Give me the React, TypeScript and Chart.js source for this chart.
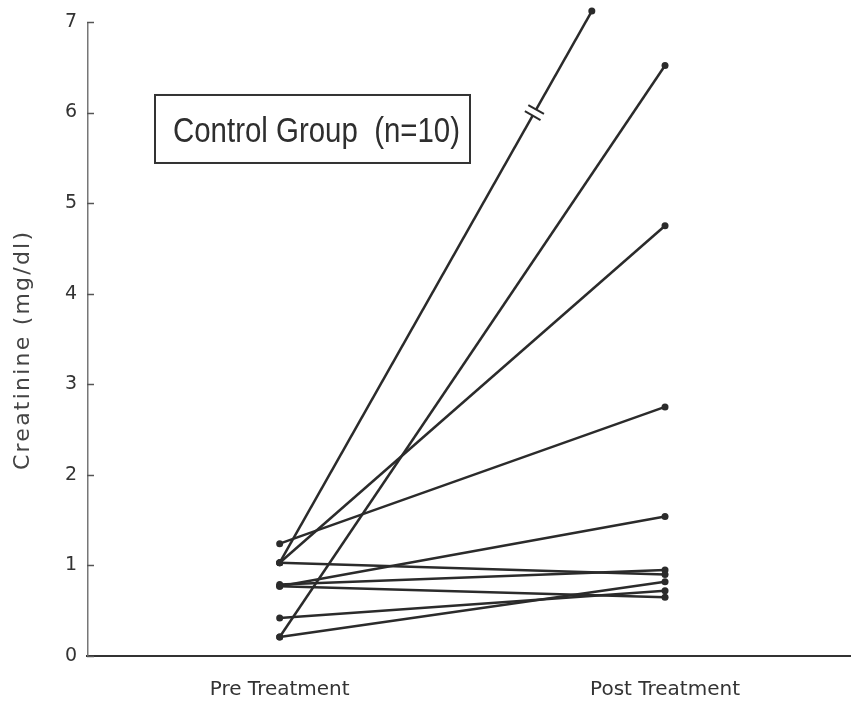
import React, { useEffect, useRef } from 'react';
import { Chart, registerables } from 'chart.js';

Chart.register(...registerables);

// Creatinine per subject, before and after treatment (mg/dl)
const categories = ['Pre Treatment', 'Post Treatment'];
const yTicks = [0, 1, 2, 3, 4, 5, 6, 7];
const preValues = [1.03, 1.03, 1.24, 0.21, 0.77, 1.03, 0.79, 0.77, 0.42, 0.21];
const postValues = [7.12, 4.75, 2.75, 6.52, 1.54, 0.9, 0.95, 0.65, 0.72, 0.82];
// x position of each subject's second point (0 = pre, 1 = post);
// subject 1 runs off the top of the axis, so its line stops short
const postPositions = [0.81, 1, 1, 1, 1, 1, 1, 1, 1, 1];
const brokenSubject = 0;
const breakAt = 6;
const boxText = 'Control Group  (n=10)';
const yTitle = 'Creatinine (mg/dl)';

const INK = '#2b2b2b';

const decorations = {
  id: 'decorations',
  afterDraw(chart: any) {
    const { ctx, chartArea, scales } = chart;
    const xs = scales.x;
    const ys = scales.y;
    ctx.save();

    // y axis line, ending at the last labelled tick
    const axisTop = ys.getPixelForValue(yTicks[yTicks.length - 1]);
    ctx.strokeStyle = '#777';
    ctx.lineWidth = 1.5;
    ctx.beginPath();
    ctx.moveTo(chartArea.left + 0.75, axisTop);
    ctx.lineTo(chartArea.left + 0.75, chartArea.bottom);
    ctx.stroke();

    // tick marks pointing into the plot
    ctx.strokeStyle = '#555';
    ctx.lineWidth = 1.5;
    yTicks.forEach((v) => {
      const py = Math.round(ys.getPixelForValue(v)) + 0.5;
      ctx.beginPath();
      ctx.moveTo(chartArea.left, py);
      ctx.lineTo(chartArea.left + 7, py);
      ctx.stroke();
    });

    // axis-break mark on the off-scale line
    const b = brokenSubject;
    const x0 = xs.getPixelForValue(0);
    const y0 = ys.getPixelForValue(preValues[b]);
    const x1 = xs.getPixelForValue(postPositions[b]);
    const y1 = ys.getPixelForValue(postValues[b]);
    const t = (breakAt - preValues[b]) / (postValues[b] - preValues[b]);
    const cx = x0 + (x1 - x0) * t;
    const cy = y0 + (y1 - y0) * t;
    const len = Math.hypot(x1 - x0, y1 - y0);
    const ux = (x1 - x0) / len;
    const uy = (y1 - y0) / len;
    const nx = -uy;
    const ny = ux;
    const gap = 3.5;
    const half = 9;
    ctx.strokeStyle = '#fff';
    ctx.lineWidth = 5;
    ctx.beginPath();
    ctx.moveTo(cx - ux * gap, cy - uy * gap);
    ctx.lineTo(cx + ux * gap, cy + uy * gap);
    ctx.stroke();
    ctx.strokeStyle = INK;
    ctx.lineWidth = 2;
    [-gap, gap].forEach((s) => {
      const px = cx + ux * s;
      const py = cy + uy * s;
      ctx.beginPath();
      ctx.moveTo(px - nx * half, py - ny * half);
      ctx.lineTo(px + nx * half, py + ny * half);
      ctx.stroke();
    });

    // group label box
    const bx = chartArea.left + 68;
    const by = axisTop + 73;
    const bw = 315;
    const bh = 68;
    ctx.strokeStyle = '#333';
    ctx.lineWidth = 2;
    ctx.strokeRect(bx, by, bw, bh);
    ctx.font = '35px "Liberation Sans Narrow", "Liberation Sans", Arial, sans-serif';
    ctx.fillStyle = '#2e2e2e';
    ctx.textAlign = 'left';
    ctx.textBaseline = 'alphabetic';
    const tw = ctx.measureText(boxText).width;
    const target = 287;
    ctx.save();
    ctx.translate(bx + 18, by + 47);
    ctx.scale(target / tw, 1);
    ctx.fillText(boxText, 0, 0);
    ctx.restore();

    // y axis title
    ctx.save();
    ctx.font = '22px "DejaVu Sans", sans-serif';
    ctx.fillStyle = '#444';
    const natural = ctx.measureText(yTitle).width;
    const spacing = Math.max(0, (238 - natural) / (yTitle.length - 1));
    (ctx as any).letterSpacing = spacing.toFixed(2) + 'px';
    const w = ctx.measureText(yTitle).width;
    ctx.translate(23, (axisTop + chartArea.bottom) / 2 + 12);
    ctx.rotate(-Math.PI / 2);
    ctx.textAlign = 'left';
    ctx.textBaseline = 'middle';
    ctx.fillText(yTitle, -w / 2 + spacing / 2, 0);
    ctx.restore();

    ctx.restore();
  },
};

export default function App() {
  const canvasRef = useRef<HTMLCanvasElement | null>(null);

  useEffect(() => {
    const canvas = canvasRef.current;
    if (!canvas) return;

    const datasets = preValues.map((pre, i) => ({
      label: 'Subject ' + (i + 1),
      data: [
        { x: 0, y: pre },
        { x: postPositions[i], y: postValues[i] },
      ],
      showLine: true,
      borderColor: INK,
      borderWidth: 2.5,
      pointRadius: 3.5,
      pointBackgroundColor: INK,
      pointBorderWidth: 0,
      clip: false as any,
    }));

    const chart = new Chart(canvas, {
      type: 'scatter',
      data: { datasets },
      options: {
        animation: false,
        responsive: false,
        events: [],
        layout: { padding: { top: 8.4, right: 6, left: 0, bottom: 0 } },
        plugins: {
          legend: { display: false },
          tooltip: { enabled: false },
        },
        scales: {
          x: {
            type: 'linear',
            min: -0.5,
            max: 1.48,
            grid: { display: false, drawTicks: false },
            border: { display: true, color: '#333', width: 2 },
            afterBuildTicks: (scale: any) => {
              scale.ticks = [{ value: 0 }, { value: 1 }];
            },
            afterFit: (scale: any) => {
              scale.height = 51;
              scale.paddingLeft = 0;
              scale.paddingRight = 0;
            },
            ticks: {
              autoSkip: false,
              maxRotation: 0,
              padding: 22,
              color: '#333',
              font: { family: '"DejaVu Sans", sans-serif', size: 20 },
              callback: (v: any) => (v === 0 ? categories[0] : v === 1 ? categories[1] : ''),
            },
          },
          y: {
            min: 0,
            max: 7.15,
            grid: { display: false, drawTicks: false },
            border: { display: false },
            afterBuildTicks: (scale: any) => {
              scale.ticks = yTicks.map((v) => ({ value: v }));
            },
            afterFit: (scale: any) => {
              scale.width = 87;
              scale.paddingTop = 0;
              scale.paddingBottom = 0;
            },
            ticks: {
              padding: 10,
              color: '#333',
              font: { family: '"DejaVu Sans", sans-serif', size: 19 },
            },
          },
        },
      },
      plugins: [decorations],
    });

    return () => chart.destroy();
  }, []);

  return (
    <div style={{ position: 'fixed', left: 0, top: 0, width: 856, height: 707, background: '#fff' }}>
      <canvas ref={canvasRef} width={856} height={707} />
    </div>
  );
}
